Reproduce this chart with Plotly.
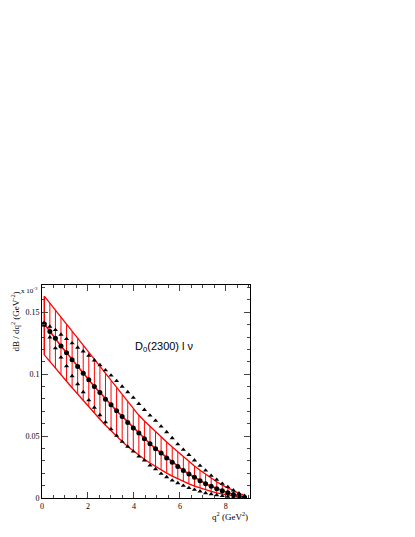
import plotly.graph_objects as go

# q^2 grid (GeV^2)
q2 = [0.10, 0.342, 0.584, 0.826, 1.068, 1.31, 1.552, 1.794, 2.036, 2.278,
      2.52, 2.762, 3.004, 3.246, 3.488, 3.73, 3.972, 4.214, 4.456, 4.698,
      4.94, 5.182, 5.424, 5.666, 5.908, 6.15, 6.392, 6.634, 6.876, 7.118,
      7.36, 7.602, 7.844, 8.086, 8.328, 8.57, 8.812]

# central prediction (x 10^-3)
central = [0.1406, 0.1344, 0.129, 0.1228, 0.1172, 0.1116, 0.1062, 0.1008, 0.0954, 0.0901,
           0.0852, 0.0798, 0.0753, 0.0704, 0.0659, 0.061, 0.0565, 0.0524, 0.0478, 0.0438,
           0.0398, 0.0363, 0.0323, 0.0288, 0.0255, 0.0223, 0.0194, 0.0167, 0.014, 0.0116,
           0.0094, 0.0075, 0.0058, 0.0043, 0.0028, 0.0016, 0.0006]

# band upper / lower edges
band_up = [0.163, 0.1573, 0.1516, 0.1459, 0.1402, 0.1345, 0.1288, 0.1231, 0.1174, 0.1117,
           0.106, 0.1003, 0.0946, 0.0889, 0.0832, 0.0775, 0.0718, 0.0668, 0.0622, 0.0578,
           0.0535, 0.0493, 0.0452, 0.0411, 0.0371, 0.0332, 0.0294, 0.0258, 0.0224, 0.0191,
           0.016, 0.0131, 0.0104, 0.008, 0.0058, 0.0038, 0.002]
band_lo = [0.1156, 0.110, 0.1048, 0.0995, 0.0943, 0.089, 0.0838, 0.0786, 0.0735, 0.0685,
           0.0636, 0.0588, 0.0542, 0.0498, 0.0456, 0.0416, 0.0379, 0.0345, 0.0313, 0.0283,
           0.0254, 0.0227, 0.0201, 0.0177, 0.0154, 0.0133, 0.0114, 0.0096, 0.008, 0.0066,
           0.0053, 0.0042, 0.0032, 0.0023, 0.0015, 0.0008, 0.0002]

# triangle curves
tri_up = [0.1415, 0.1384, 0.1357, 0.132, 0.1285, 0.125, 0.1215, 0.1185, 0.115, 0.1112,
          0.1073, 0.1032, 0.099, 0.0945, 0.09, 0.0855, 0.081, 0.0761, 0.0712, 0.0667,
          0.0624, 0.0578, 0.0532, 0.0484, 0.0435, 0.039, 0.0349, 0.0304, 0.0261, 0.0223,
          0.018, 0.0148, 0.0116, 0.0089, 0.0062, 0.0038, 0.0018]
tri_lo = [0.1395, 0.1298, 0.121, 0.1135, 0.1065, 0.0985, 0.092, 0.0855, 0.079, 0.073,
          0.067, 0.0612, 0.0556, 0.0503, 0.0455, 0.0414, 0.0376, 0.0336, 0.0304, 0.0263,
          0.0234, 0.0196, 0.0169, 0.0142, 0.0121, 0.0099, 0.0081, 0.0067, 0.0054, 0.004,
          0.0032, 0.0024, 0.0017, 0.0011, 0.0006, 0.0003, 0.0001]

RED = "#ff0000"

# vertical hatch lines of the band
vx, vy = [], []
for q, lo, up in zip(q2, band_lo, band_up):
    vx += [q, q, None]
    vy += [lo, up, None]

# outline of the band
ox = q2 + q2[::-1] + [q2[0]]
oy = band_up + band_lo[::-1] + [band_up[0]]

fig = go.Figure()
fig.add_trace(go.Scatter(x=vx, y=vy, mode="lines", line=dict(color=RED, width=1),
                         hoverinfo="skip", showlegend=False))
fig.add_trace(go.Scatter(x=ox, y=oy, mode="lines", line=dict(color=RED, width=1.3),
                         showlegend=False))
fig.add_trace(go.Scatter(x=q2, y=central, mode="lines", line=dict(color=RED, width=1.6),
                         showlegend=False))
fig.add_trace(go.Scatter(x=q2, y=tri_up, mode="markers",
                         marker=dict(symbol="triangle-up", size=4.5, color="black"),
                         showlegend=False))
fig.add_trace(go.Scatter(x=q2, y=tri_lo, mode="markers",
                         marker=dict(symbol="triangle-up", size=4.5, color="black"),
                         showlegend=False))
fig.add_trace(go.Scatter(x=q2, y=central, mode="markers",
                         marker=dict(symbol="circle", size=5, color="black"),
                         showlegend=False))

serif = "Liberation Serif"
axis_common = dict(showgrid=False, zeroline=False, showline=True, linecolor="black",
                   linewidth=1, mirror="allticks", ticks="inside", tickcolor="#444",
                   ticklen=6, tickwidth=1,
                   tickfont=dict(family=serif, size=8, color="black"))

fig.update_xaxes(range=[0, 9.05], tickvals=[0, 2, 4, 6, 8], ticktext=["0", "2", "4", "6", "8"],
                 minor=dict(dtick=0.5, ticks="inside", ticklen=3, tickcolor="#444"),
                 **axis_common)
fig.update_yaxes(range=[0, 0.172], tickvals=[0, 0.05, 0.1, 0.15],
                 ticktext=["0", "0.05", "0.1", "0.15"],
                 minor=dict(dtick=0.01, ticks="inside", ticklen=3, tickcolor="#444"),
                 **axis_common)

fig.update_layout(
    width=415, height=537,
    margin=dict(l=34, r=173, t=277, b=47),
    paper_bgcolor="white", plot_bgcolor="white",
    annotations=[
        dict(text="D<sub>0</sub>(2300) l ν", x=3.95, y=0.122, xref="x", yref="y",
             xanchor="left", yanchor="middle", showarrow=False,
             font=dict(family="Liberation Sans", size=11, color="black")),
        dict(text="dB / dq<sup>2</sup> (GeV<sup>-2</sup>)", x=-0.128, y=0.83,
             xref="paper", yref="paper", textangle=-90, showarrow=False,
             xanchor="center", yanchor="middle",
             font=dict(family=serif, size=9, color="black")),
        dict(text="q<sup>2</sup> (GeV<sup>2</sup>)", x=1.0, y=-0.045,
             xref="paper", yref="paper", xanchor="right", yanchor="top",
             showarrow=False, font=dict(family=serif, size=9, color="black")),
        dict(text="x 10<sup>-3</sup>", x=-0.01, y=0.975, xref="paper", yref="paper",
             xanchor="right", yanchor="middle", showarrow=False,
             font=dict(family=serif, size=7, color="black")),
    ],
)

fig.write_html("out.html")
